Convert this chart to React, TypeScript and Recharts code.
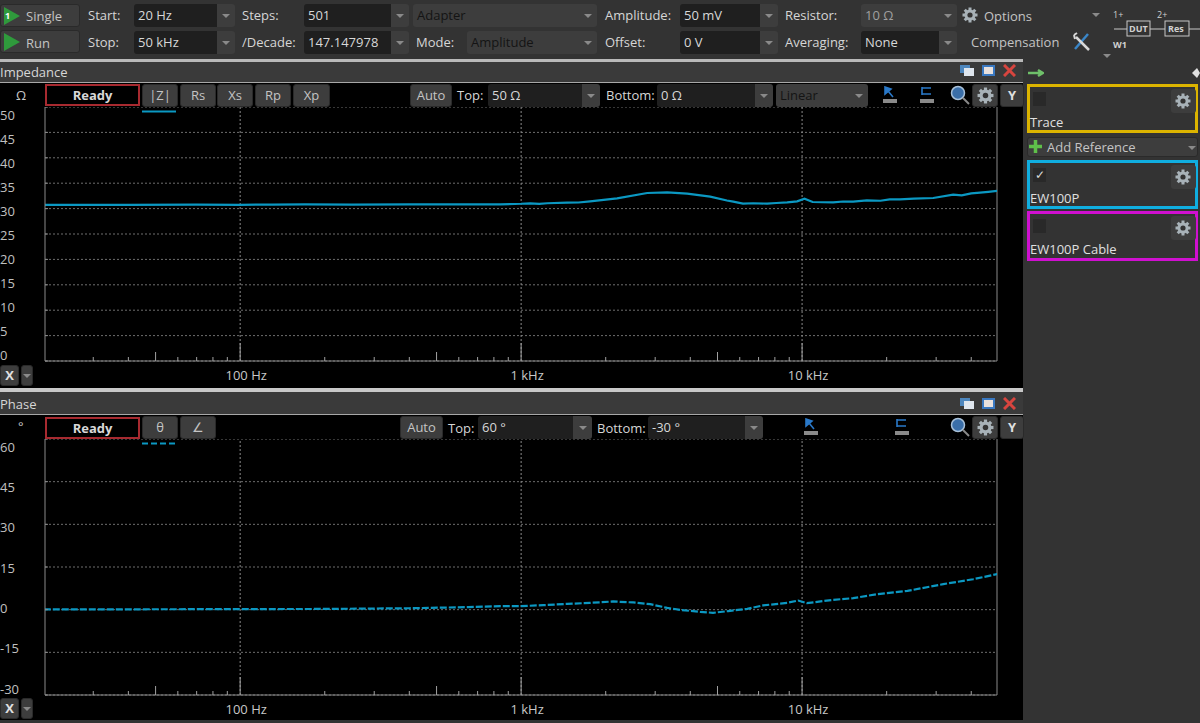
// App.tsx - impedance analyzer window, two bode plots
import { LineChart, Line, XAxis, YAxis, CartesianGrid, ReferenceLine } from "recharts";

const FONT = "'Open Sans', sans-serif";
const TRACE = "#0b98c2";

const zFreqs = [20, 40, 70, 100, 130, 170, 250, 400, 650, 842, 1000, 1077, 1160, 1240, 1458, 1600, 1760, 2195, 2810, 3310, 3900, 4710, 5400, 5690, 6160, 6700, 7510, 8100, 8850, 9600, 10200, 10900, 12900, 14000, 15200, 17000, 19000, 20500, 22300, 25000, 29300, 34500, 37000, 40000, 43000, 46000, 50000];
const zValues = [30.75, 30.75, 30.8, 30.75, 30.8, 30.85, 30.8, 30.85, 30.85, 30.84, 30.95, 31.04, 30.95, 31.05, 31.17, 31.2, 31.43, 32.02, 33.07, 33.2, 32.94, 32.35, 31.6, 31.37, 30.97, 31.05, 30.98, 31.1, 31.24, 31.43, 31.95, 31.3, 31.24, 31.4, 31.37, 31.6, 31.55, 31.8, 31.83, 31.95, 32.09, 32.74, 32.6, 33.0, 33.14, 33.3, 33.53];

const phFreqs = [20, 60, 100, 200, 400, 650, 842, 992, 1200, 1458, 1760, 2125, 2505, 2880, 3310, 3680, 4340, 4820, 5460, 6380, 7260, 8850, 9680, 10400, 12900, 15200, 18500, 23700, 31800, 40600, 50000];
const phValues = [0.1, 0.15, 0.2, 0.25, 0.5, 0.9, 1.23, 1.23, 1.58, 2.04, 2.39, 2.88, 2.53, 1.93, 0.63, -0.07, -0.77, -1.1, -0.5, 0.3, 1.5, 2.4, 3.2, 2.3, 3.45, 4.04, 5.45, 6.6, 8.97, 10.7, 12.6];

const freqTicks = [30, 40, 50, 60, 70, 80, 90, 100, 200, 300, 400, 500, 600, 700, 800, 900, 1000, 2000, 3000, 4000, 5000, 6000, 7000, 8000, 9000, 10000, 20000, 30000, 40000];
const decades = [100, 1000, 10000];
const decadeLabels: Record<number, string> = { 100: "100 Hz", 1000: "1 kHz", 10000: "10 kHz" };
const zTicks = [0, 5, 10, 15, 20, 25, 30, 35, 40, 45, 50];
const phTicks = [-30, -15, 0, 15, 30, 45, 60];

const zData = zFreqs.map((f, i) => ({ f, v: zValues[i] }));
const phData = phFreqs.map((f, i) => ({ f, v: phValues[i] }));

function tickLen(v: number) {
  if (decades.includes(v)) return 18;
  if (String(v)[0] === "5") return 9;
  return 4;
}

function BottomTick({ x, y, payload }: any) {
  const v = payload.value;
  return (
    <g>
      <line x1={x} x2={x} y1={y} y2={y - tickLen(v)} stroke="#a0a0a0" />
      {decadeLabels[v] && (
        <text x={x + 6} y={y + 19} textAnchor="middle" fill="#c8c8c8" fontSize={13} fontFamily={FONT}>
          {decadeLabels[v]}
        </text>
      )}
    </g>
  );
}

function TopTick({ x, y, payload }: any) {
  return <line x1={x} x2={x} y1={y} y2={y + tickLen(payload.value)} stroke="#a0a0a0" />;
}

function LeftTick({ y, payload, index }: any) {
  const dy = 7.5 - (13.5 * y) / 254;
  return (
    <g key={index}>
      <line x1={45} x2={48} y1={y} y2={y} stroke="#8a8a8a" />
      <text x={0} y={y + dy + 5} fill="#c0c0c0" fontSize={13} fontFamily={FONT}>
        {payload.value}
      </text>
    </g>
  );
}

function Plot({ top, height, data, yTicks, yDomain, dash }: any) {
  return (
    <div style={{ position: "absolute", left: 0, top }}>
      <LineChart width={1023} height={height} data={data} margin={{ top: 0, right: 26, bottom: 0, left: 0 }}>
        <CartesianGrid vertical={false} stroke="#6e6e6e" strokeDasharray="2 2" />
        <XAxis
          dataKey="f"
          type="number"
          scale="log"
          domain={[20.2, 49400]}
          allowDataOverflow
          ticks={freqTicks}
          interval={0}
          height={30}
          tickLine={false}
          tickSize={0}
          tickMargin={0}
          tick={BottomTick}
          axisLine={{ stroke: "#8a8a8a" }}
        />
        <XAxis
          xAxisId="top"
          orientation="top"
          dataKey="f"
          type="number"
          scale="log"
          domain={[20.2, 49400]}
          allowDataOverflow
          ticks={freqTicks}
          interval={0}
          height={0}
          tickLine={false}
          tickSize={0}
          tickMargin={0}
          tick={TopTick}
          axisLine={{ stroke: "#4a4a4a" }}
        />
        <YAxis
          type="number"
          domain={yDomain}
          ticks={yTicks}
          interval={0}
          width={45}
          tickLine={false}
          tick={LeftTick}
          axisLine={{ stroke: "#8a8a8a" }}
        />
        {decades.map((d) => (
          <ReferenceLine key={d} x={d} stroke="#8a8a8a" strokeDasharray="2 2" />
        ))}
        <ReferenceLine x={49400} stroke="#8a8a8a" />
        <Line
          dataKey="v"
          stroke={TRACE}
          strokeWidth={2.2}
          strokeDasharray={dash}
          dot={false}
          isAnimationActive={false}
        />
      </LineChart>
    </div>
  );
}

const abs = (x: number, y: number, w: number, h: number, extra: any = {}) => ({
  position: "absolute" as const,
  left: x,
  top: y,
  width: w,
  height: h,
  boxSizing: "border-box" as const,
  ...extra,
});

function Label({ x, y, children, color = "#d6d6d6", bold = false, size = 13 }: any) {
  return (
    <div style={{ position: "absolute", left: x, top: y - 10, height: 20, lineHeight: "20px", color, fontSize: size, fontWeight: bold ? 700 : 400, whiteSpace: "nowrap" }}>
      {children}
    </div>
  );
}

function Btn({ x, y, w, h = 23, text, bold = false, color = "#c4c4c4", size = 13 }: any) {
  return (
    <div style={abs(x, y, w, h, { background: "#3d3d3d", borderRadius: 3, border: "1px solid #2a2a2a", color, fontSize: size, fontWeight: bold ? 700 : 400, textAlign: "center", lineHeight: `${h - 2}px` })}>
      {text}
    </div>
  );
}

function Arrow({ x, y }: any) {
  return <div style={{ position: "absolute", left: x, top: y, width: 0, height: 0, borderLeft: "4px solid transparent", borderRight: "4px solid transparent", borderTop: "4px solid #8a8a8a" }} />;
}

// dark text field with a little dropdown button on the right
function Combo({ x, y, w, total, h = 23, text, color = "#d8d8d8" }: any) {
  return (
    <>
      <div style={abs(x, y, w, h, { background: "#1f1f1f", color, fontSize: 13, lineHeight: `${h}px`, paddingLeft: 4, borderRadius: "3px 0 0 3px" })}>{text}</div>
      <div style={abs(x + w, y, total - w, h, { background: "#3d3d3d", borderRadius: "0 3px 3px 0" })} />
      <Arrow x={x + w + (total - w) / 2 - 4} y={y + 10} />
    </>
  );
}

// greyed out combo, whole thing one colour
function Drop({ x, y, w, h = 23, text, color = "#141414" }: any) {
  return (
    <>
      <div style={abs(x, y, w, h, { background: "#3d3d3d", color, fontSize: 13, lineHeight: `${h}px`, paddingLeft: 4, borderRadius: 3 })}>{text}</div>
      <Arrow x={x + w - 13} y={y + 10} />
    </>
  );
}

function Gear({ x, y, size = 16, color = "#a8b2b8" }: any) {
  const teeth = [0, 45, 90, 135];
  return (
    <svg style={{ position: "absolute", left: x, top: y }} width={size} height={size} viewBox="0 0 16 16">
      {teeth.map((a) => (
        <rect key={a} x={6.5} y={0.5} width={3} height={15} fill={color} transform={`rotate(${a} 8 8)`} />
      ))}
      <circle cx={8} cy={8} r={5.6} fill={color} />
      <circle cx={8} cy={8} r={2.6} fill="#333" />
    </svg>
  );
}

function Play({ x, y, w = 16, h = 18 }: any) {
  return <div style={{ position: "absolute", left: x, top: y, width: 0, height: 0, borderTop: `${h / 2}px solid transparent`, borderBottom: `${h / 2}px solid transparent`, borderLeft: `${w}px solid #2f9a3c` }} />;
}

function WinIcons({ y }: any) {
  return (
    <>
      <div style={abs(960, y + 2, 10, 8, { background: "#4d86bd" })} />
      <div style={abs(964, y + 5, 10, 8, { background: "#dfe6ee" })} />
      <div style={abs(982, y + 2, 13, 11, { background: "#e8e0dc", border: "2px solid #3a78c0" })} />
      <svg style={{ position: "absolute", left: 1003, top: y + 1 }} width={13} height={13}>
        <path d="M1 1 L12 12 M12 1 L1 12" stroke="#d8453f" strokeWidth={3} />
      </svg>
    </>
  );
}

function ToolIcons({ x1, x2, y }: any) {
  return (
    <>
      <svg style={{ position: "absolute", left: x1, top: y }} width={16} height={18}>
        <path d="M3 1 L3 8 L9 3 Z M6 5 L11 11" stroke="#2a79c9" strokeWidth={1.6} fill="#2a79c9" />
        <rect x={1} y={13} width={14} height={4} fill="#8a8a8a" />
      </svg>
      <svg style={{ position: "absolute", left: x2, top: y }} width={16} height={18}>
        <path d="M3 1 L3 9 M3 2 L12 2 M3 8 L12 8" stroke="#2a79c9" strokeWidth={1.6} fill="none" />
        <rect x={1} y={13} width={14} height={4} fill="#8a8a8a" />
      </svg>
    </>
  );
}

function Magnifier({ x, y }: any) {
  return (
    <svg style={{ position: "absolute", left: x, top: y }} width={20} height={20}>
      <circle cx={8} cy={8} r={6.5} fill="#3a6ea8" stroke="#a8c0d8" strokeWidth={1.5} />
      <path d="M13 13 L19 19" stroke="#8a8a8a" strokeWidth={2} />
    </svg>
  );
}

function Channel({ y, h, border, name, checked }: any) {
  return (
    <div style={abs(1027, y, 171, h, { border: `3px solid ${border}`, background: "#333" })}>
      <div style={abs(3, 5, 13, 14, { background: "#292929", color: "#d8d8d8", fontSize: 12, lineHeight: "14px", textAlign: "center" })}>{checked ? "✓" : ""}</div>
      <div style={abs(0, 26, 160, 18, { color: "#e0e0e0", fontSize: 13, lineHeight: "18px" })}>{name}</div>
      <div style={abs(141, 2, 25, 24, { background: "#3d3d3d", borderRadius: 3 })} />
      <Gear x={145} y={6} size={16} />
    </div>
  );
}

function LegendDash({ y, dash }: any) {
  return (
    <svg style={{ position: "absolute", left: 142, top: y }} width={34} height={3}>
      <line x1={0} x2={34} y1={1.5} y2={1.5} stroke={TRACE} strokeWidth={2} strokeDasharray={dash} />
    </svg>
  );
}

export default function App() {
  return (
    <div style={{ position: "absolute", left: 0, top: 0, width: 1200, height: 723, background: "#333", overflow: "hidden", fontFamily: FONT }}>
      {/* top toolbar */}
      <Btn x={0} y={4} w={80} text="" />
      <Btn x={0} y={30} w={80} text="" />
      <Play x={4} y={7} />
      <Play x={4} y={33} />
      <Label x={5} y={16} color="#fff" size={9} bold>1</Label>
      <Label x={26} y={16} color="#c4c4c4">Single</Label>
      <Label x={26} y={43} color="#c4c4c4">Run</Label>
      <Label x={88} y={15}>Start:</Label>
      <Label x={88} y={42}>Stop:</Label>
      <Combo x={134} y={4} w={83} total={101} text="20 Hz" />
      <Combo x={134} y={31} w={83} total={101} text="50 kHz" />
      <Label x={242} y={15}>Steps:</Label>
      <Label x={242} y={42}>/Decade:</Label>
      <Combo x={304} y={4} w={87} total={105} text="501" />
      <Combo x={304} y={31} w={87} total={105} text="147.147978" />
      <Drop x={413} y={4} w={184} text="Adapter" />
      <Label x={416} y={42}>Mode:</Label>
      <Drop x={467} y={31} w={130} text="Amplitude" />
      <Label x={605} y={15}>Amplitude:</Label>
      <Label x={605} y={42}>Offset:</Label>
      <Combo x={680} y={4} w={80} total={98} text="50 mV" />
      <Combo x={680} y={31} w={80} total={98} text="0 V" />
      <Label x={785} y={15}>Resistor:</Label>
      <Label x={785} y={42}>Averaging:</Label>
      <Drop x={861} y={4} w={96} text="10 Ω" color="#a0a0a0" />
      <Combo x={861} y={31} w={78} total={96} text="None" />
      <Gear x={962} y={7} />
      <Label x={984} y={16} color="#c4c4c4">Options</Label>
      <Label x={971} y={42} color="#c4c4c4">Compensation</Label>
      <Arrow x={1092} y={13} />
      <Arrow x={1103} y={54} />
      {/* wrench and screwdriver */}
      <svg style={{ position: "absolute", left: 1072, top: 32 }} width={20} height={20}>
        <path d="M16 2 L3 17" stroke="#3a86c8" strokeWidth={2.5} />
        <path d="M4 5 L17 18" stroke="#d8d8d8" strokeWidth={2.5} />
        <path d="M2 3 L5 1 M2 3 L3 7" stroke="#d8d8d8" strokeWidth={2} />
      </svg>
      {/* small DUT schematic */}
      <svg style={{ position: "absolute", left: 1110, top: 8 }} width={90} height={45} fontFamily={FONT} fill="#d0d0d0">
        <text x={3} y={10} fontSize={9}>1+</text>
        <text x={47} y={10} fontSize={9}>2+</text>
        <path d="M4 21 L17 21 M40 21 L55 21 M79 21 L90 21" stroke="#c8c8c8" />
        <rect x={17} y={13} width={23} height={15} fill="none" stroke="#c8c8c8" />
        <rect x={55} y={13} width={24} height={15} fill="none" stroke="#c8c8c8" />
        <text x={19} y={24} fontSize={9} fontWeight={700}>DUT</text>
        <text x={58} y={24} fontSize={9} fontWeight={700}>Res</text>
        <text x={3} y={40} fontSize={9} fontWeight={700}>W1</text>
      </svg>

      {/* impedance panel */}
      <div style={abs(0, 59, 1023, 3, { background: "#b9b9b9" })} />
      <div style={abs(0, 62, 1023, 20, { background: "#3a3a3a" })} />
      <div style={abs(0, 82, 1023, 1, { background: "#a8a8a8" })} />
      <div style={abs(0, 83, 1023, 305, { background: "#000" })} />
      <Label x={0} y={72} color="#d6d6d6">Impedance</Label>
      <WinIcons y={63} />
      <Label x={16} y={95} color="#c8c8c8">Ω</Label>
      <div style={abs(45, 84, 95, 22, { border: "2px solid #a82a30", color: "#d8d8d8", fontSize: 13, fontWeight: 700, textAlign: "center", lineHeight: "18px" })}>Ready</div>
      <Btn x={142} y={84} w={36} text="|Z|" />
      <Btn x={180} y={84} w={36} text="Rs" />
      <Btn x={217} y={84} w={36} text="Xs" />
      <Btn x={255} y={84} w={36} text="Rp" />
      <Btn x={293} y={84} w={37} text="Xp" />
      <Btn x={410} y={84} w={42} text="Auto" />
      <Label x={457} y={95}>Top:</Label>
      <Combo x={488} y={84} w={94} total={112} text="50 Ω" />
      <Label x={606} y={95}>Bottom:</Label>
      <Combo x={657} y={84} w={98} total={116} text="0 Ω" />
      <Drop x={776} y={84} w={92} text="Linear" />
      <ToolIcons x1={882} x2={919} y={86} />
      <Magnifier x={950} y={85} />
      <Btn x={972} y={84} w={26} text="" />
      <Gear x={977} y={87} size={17} />
      <Btn x={1000} y={84} w={24} text="Y" bold color="#e0e0e0" />
      <Plot top={107} height={284} data={zData} yTicks={zTicks} yDomain={[0, 50]} />
      <LegendDash y={110} />
      <Btn x={0} y={365} w={19} h={21} text="X" bold color="#e0e0e0" />
      <Btn x={21} y={365} w={12} h={21} text="" />
      <Arrow x={23} y={374} />

      {/* phase panel */}
      <div style={abs(0, 388, 1023, 4, { background: "#c8c8c8" })} />
      <div style={abs(0, 392, 1023, 22, { background: "#3a3a3a" })} />
      <div style={abs(0, 414, 1023, 1, { background: "#a8a8a8" })} />
      <div style={abs(0, 415, 1023, 305, { background: "#000" })} />
      <Label x={0} y={404} color="#d6d6d6">Phase</Label>
      <WinIcons y={396} />
      <Label x={18} y={426} color="#c8c8c8">°</Label>
      <div style={abs(45, 417, 95, 22, { border: "2px solid #a82a30", color: "#d8d8d8", fontSize: 13, fontWeight: 700, textAlign: "center", lineHeight: "18px" })}>Ready</div>
      <Btn x={142} y={416} w={36} text="θ" />
      <Btn x={180} y={416} w={36} text="∠" />
      <Btn x={400} y={416} w={43} text="Auto" />
      <Label x={448} y={428}>Top:</Label>
      <Combo x={478} y={416} w={95} total={114} text="60 °" />
      <Label x={597} y={428}>Bottom:</Label>
      <Combo x={648} y={416} w={97} total={115} text="-30 °" />
      <ToolIcons x1={803} x2={894} y={418} />
      <Magnifier x={950} y={417} />
      <Btn x={972} y={416} w={26} text="" />
      <Gear x={977} y={419} size={17} />
      <Btn x={1000} y={416} w={24} text="Y" bold color="#e0e0e0" />
      <Plot top={439} height={286} data={phData} yTicks={phTicks} yDomain={[-30, 60]} dash="7 2" />
      <LegendDash y={442} dash="6 3" />
      <Btn x={0} y={698} w={19} h={21} text="X" bold color="#e0e0e0" />
      <Btn x={21} y={698} w={12} h={21} text="" />
      <Arrow x={23} y={707} />

      {/* reference panel on the right */}
      <svg style={{ position: "absolute", left: 1028, top: 68 }} width={16} height={10}>
        <path d="M0 5 L15 5 M10 2 L15 5 L10 8" stroke="#6fc06a" strokeWidth={2.5} fill="none" />
      </svg>
      <svg style={{ position: "absolute", left: 1192, top: 68 }} width={8} height={10}>
        <path d="M5 0 L0 5 L5 10 L8 5 Z" fill="#e0e0e0" />
      </svg>
      <Channel y={84} h={49} border="#dcb400" name="Trace" />
      <Btn x={1027} y={137} w={171} h={20} text="" />
      <svg style={{ position: "absolute", left: 1028, top: 139 }} width={15} height={15}>
        <path d="M7.5 1 L7.5 14 M1 7.5 L14 7.5" stroke="#5fc04a" strokeWidth={3.5} />
      </svg>
      <Label x={1047} y={147} color="#c4c4c4">Add Reference</Label>
      <Arrow x={1188} y={146} />
      <Channel y={160} h={49} border="#10aee0" name="EW100P" checked />
      <Channel y={211} h={50} border="#d010d0" name="EW100P Cable" />
    </div>
  );
}
